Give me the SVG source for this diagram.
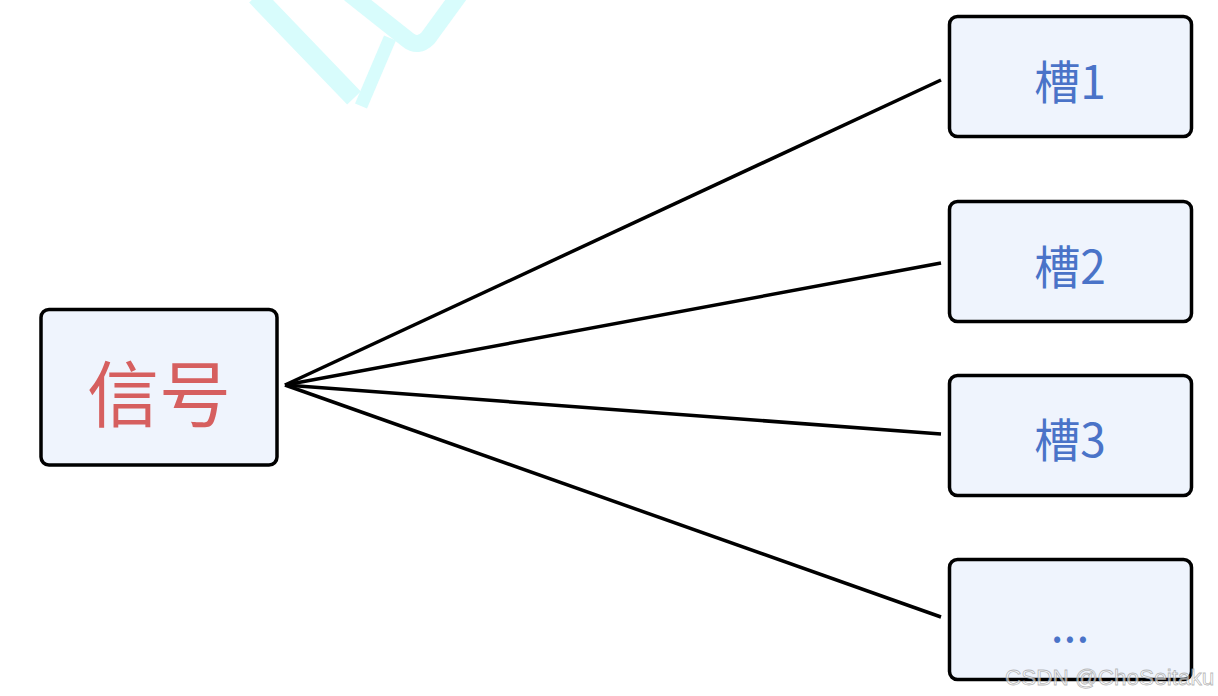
<svg xmlns="http://www.w3.org/2000/svg" width="1218" height="696" viewBox="0 0 1218 696">
<style>
.box{fill:#eff4fd;stroke:#000;stroke-width:3.5}
.edge{stroke:#000;stroke-width:3.5;fill:none}
.slot{font-family:"Noto Sans CJK SC","Noto Sans",sans-serif;font-size:46px;fill:#4a73c8;text-anchor:middle;dominant-baseline:central}
.sig{font-family:"Noto Sans CJK SC","Noto Sans",sans-serif;font-size:72px;fill:#d65f5f;text-anchor:middle;dominant-baseline:central}
.deco{stroke:#d8fcfc;fill:none;stroke-linejoin:round}
</style>
<rect width="1218" height="696" fill="#fff"/>
<g id="decoration">
<path class="deco" stroke-width="19" d="M256 -4 L354 98"/>
<path class="deco" stroke-width="13" stroke-linecap="butt" d="M390 38 L361 106"/>
<path class="deco" stroke-width="17" stroke-linecap="round" d="M350 -6 L408 40 Q418 48 428 38 L460 -6"/>
</g>
<g id="connectors">
<line class="edge" x1="285" y1="385" x2="941" y2="80"/>
<line class="edge" x1="285" y1="385" x2="941" y2="263"/>
<line class="edge" x1="285" y1="385" x2="941" y2="434"/>
<line class="edge" x1="285" y1="385" x2="941" y2="617"/>
</g>
<g id="signal">
<rect class="box" x="41" y="309.5" width="236" height="155.5" rx="8"/>
<text class="sig" x="159" y="389">信号</text>
</g>
<g id="slot1">
<rect class="box" x="949.5" y="16.5" width="242" height="120" rx="8"/>
<text class="slot" x="1070" y="79">槽1</text>
</g>
<g id="slot2">
<rect class="box" x="949.5" y="201.5" width="242" height="120" rx="8"/>
<text class="slot" x="1070" y="264">槽2</text>
</g>
<g id="slot3">
<rect class="box" x="949.5" y="375.5" width="242" height="120" rx="8"/>
<text class="slot" x="1070" y="437">槽3</text>
</g>
<g id="slotN">
<rect class="box" x="949.5" y="559.5" width="242" height="120" rx="8"/>
<text class="slot" x="1070" y="622">...</text>
</g>
<text x="1005" y="685" font-family="Liberation Sans, Arial, sans-serif" font-size="22.5" fill="#fff" fill-opacity="0.6" stroke="#999" stroke-width="0.8" stroke-opacity="0.7">CSDN @ChoSeitaku</text>
</svg>
